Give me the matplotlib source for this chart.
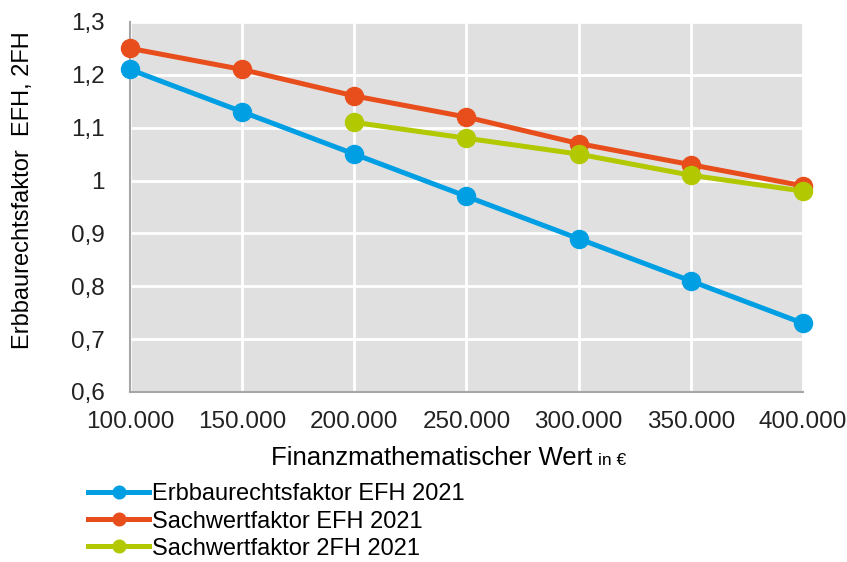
import matplotlib
matplotlib.use("Agg")
import matplotlib.pyplot as plt
from matplotlib.ticker import FuncFormatter

plt.rcParams['font.family'] = ['Liberation Sans', 'DejaVu Sans']

x_all = [100000, 150000, 200000, 250000, 300000, 350000, 400000]
erbbau_efh = [1.21, 1.13, 1.05, 0.97, 0.89, 0.81, 0.73]
sachwert_efh = [1.25, 1.21, 1.16, 1.12, 1.07, 1.03, 0.99]
x_2fh = [200000, 250000, 300000, 350000, 400000]
sachwert_2fh = [1.11, 1.08, 1.05, 1.01, 0.98]

labels = ['Erbbaurechtsfaktor EFH 2021', 'Sachwertfaktor EFH 2021', 'Sachwertfaktor 2FH 2021']
colors = ['#009fe3', '#e84e1b', '#b2c800']

fig = plt.figure(figsize=(8.47, 5.62), dpi=100)
ax = fig.add_axes([0.1535, 0.3025, 0.7945, 0.6585])
ax.set_facecolor('#e0e0e0')

lines = []
for xs, ys, c, lab in [(x_all, erbbau_efh, colors[0], labels[0]),
                       (x_all, sachwert_efh, colors[1], labels[1]),
                       (x_2fh, sachwert_2fh, colors[2], labels[2])]:
    l, = ax.plot(xs, ys, color=c, lw=3.6, marker='o', ms=13, label=lab,
                 clip_on=False, zorder=3)
    lines.append(l)

ax.set_xlim(100000, 400000)
ax.set_ylim(0.6, 1.3)
ax.set_xticks(x_all)
ax.set_yticks([0.6, 0.7, 0.8, 0.9, 1.0, 1.1, 1.2, 1.3])
ax.xaxis.set_major_formatter(FuncFormatter(lambda v, p: f"{int(v):,}".replace(',', '.')))
ax.yaxis.set_major_formatter(FuncFormatter(lambda v, p: f"{v:g}".replace('.', ',')))
ax.grid(True, color='white', lw=2)
ax.set_axisbelow(True)
for s in ['top', 'right']:
    ax.spines[s].set_visible(False)
for s in ['left', 'bottom']:
    ax.spines[s].set_color('#a6a6a6')
    ax.spines[s].set_linewidth(1.5)
ax.tick_params(length=0, labelsize=17.5, colors='#222222')
ax.tick_params(axis='y', pad=18)
ax.tick_params(axis='x', pad=14)

# y title sits a little above the axis centre in the original
fig.text(0.027, 0.662, 'Erbbaurechtsfaktor  EFH, 2FH', fontsize=17, rotation=90,
         ha='center', va='center')
fig.text(0.699, 0.173, 'Finanzmathematischer Wert', fontsize=18.5, ha='right', va='baseline')
fig.text(0.706, 0.173, 'in €', fontsize=12.5, ha='left', va='baseline')

fig.legend(handles=lines, loc='upper left', bbox_to_anchor=(0.104, 0.14), frameon=False,
           fontsize=17, handlelength=2.6, handletextpad=0.1, labelspacing=0.22,
           markerscale=0.7, borderaxespad=0, borderpad=0)

fig.savefig('out.png', dpi=100)
